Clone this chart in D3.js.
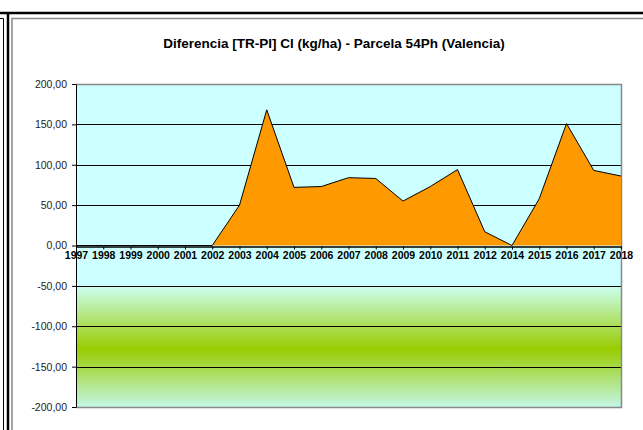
<!DOCTYPE html>
<html>
<head>
<meta charset="utf-8">
<script src="https://cdn.jsdelivr.net/npm/d3@7"></script>
<style>
  html, body { margin: 0; padding: 0; background: #fff; }
  svg { display: block; font-family: Arial, "Liberation Sans", sans-serif; }
</style>
</head>
<body>
<svg id="chart" width="643" height="430"></svg>
<script>
// ── data ───────────────────────────────────────────────────────────────────
const years  = ['1997','1998','1999','2000','2001','2002','2003','2004','2005','2006','2007',
                '2008','2009','2010','2011','2012','2014','2015','2016','2017','2018'];
const values = [0, 0, 0, 0, 0, 0, 50, 168, 72, 73, 84, 83, 55, 73, 94, 17, 0, 58, 151, 93, 86];
const yTicks = [200, 150, 100, 50, 0, -50, -100, -150, -200];
const title  = 'Diferencia [TR-PI] Cl (kg/ha) - Parcela 54Ph (Valencia)';

// ── layout ─────────────────────────────────────────────────────────────────
const svg = d3.select('#chart');
const pl = 76, pr = 621, pt = 84, pb = 407;
const FONT = 'Arial, "Liberation Sans", sans-serif';

const x = d3.scalePoint().domain(years).range([pl, pr]);
const y = d3.scaleLinear().domain([-200, 200]).range([pb, pt]);
const fmt = v => (v < 0 ? '-' : '') + d3.format('.2f')(Math.abs(v)).replace('.', ',');

// ── outer frames ───────────────────────────────────────────────────────────
svg.append('path').attr('d', 'M0,13H643').attr('stroke', '#000').attr('stroke-width', 2.5);
svg.append('path').attr('d', 'M8,12V430').attr('stroke', '#000').attr('stroke-width', 2.5);
svg.append('path').attr('d', 'M0,18.5H3.5V430').attr('fill', 'none').attr('stroke', '#000').attr('stroke-width', 1);
svg.append('path').attr('d', 'M12,430V18.5H643').attr('fill', 'none').attr('stroke', '#888').attr('stroke-width', 1.5);

// ── title ──────────────────────────────────────────────────────────────────
svg.append('text').attr('x', 334).attr('y', 48).attr('text-anchor', 'middle')
  .attr('font-family', FONT).attr('font-size', 13.5).attr('font-weight', 'bold').text(title);

// ── plot background ────────────────────────────────────────────────────────
const defs = svg.append('defs');
const grad = defs.append('linearGradient').attr('id', 'band')
  .attr('x1', 0).attr('x2', 0).attr('y1', 0).attr('y2', 1);
grad.append('stop').attr('offset', '0%').attr('stop-color', '#CCFFF2');
grad.append('stop').attr('offset', '52%').attr('stop-color', '#99CC00');
grad.append('stop').attr('offset', '100%').attr('stop-color', '#C4F6E6');

svg.append('rect').attr('x', pl).attr('y', pt).attr('width', pr - pl).attr('height', pb - pt)
  .attr('fill', '#CCFFFF');
svg.append('rect').attr('x', pl).attr('y', y(-50)).attr('width', pr - pl)
  .attr('height', y(-200) - y(-50)).attr('fill', 'url(#band)');

// grid
svg.append('g').selectAll('line').data(yTicks.filter(v => v !== 200 && v !== -200 && v !== 0))
  .join('line')
  .attr('x1', pl).attr('x2', pr)
  .attr('y1', d => Math.round(y(d)) + 0.5).attr('y2', d => Math.round(y(d)) + 0.5)
  .attr('stroke', '#000').attr('stroke-width', 1);

// plot border
svg.append('path')
  .attr('d', `M${pl},${pt + 0.5}H${pr + 0.5}V${pb + 0.5}H${pl}`)
  .attr('fill', 'none').attr('stroke', '#888').attr('stroke-width', 1.5);

// ── area ───────────────────────────────────────────────────────────────────
const pts = years.map((yr, i) => ({ yr, v: values[i] }));
svg.append('path').datum(pts)
  .attr('d', d3.area().x(d => x(d.yr)).y0(y(0)).y1(d => y(d.v)))
  .attr('fill', '#FF9900');
svg.append('path').datum(pts)
  .attr('d', d3.line().x(d => x(d.yr)).y(d => y(d.v)))
  .attr('fill', 'none').attr('stroke', '#000').attr('stroke-width', 1);

// ── axes ───────────────────────────────────────────────────────────────────
const yAxis = svg.append('g').attr('transform', `translate(${pl},0)`)
  .call(d3.axisLeft(y).tickValues(yTicks).tickSize(4).tickSizeOuter(0).tickFormat(fmt));
yAxis.attr('font-family', FONT);
yAxis.select('.domain').attr('stroke', '#000');
yAxis.selectAll('text').attr('font-size', 10.5).attr('fill', '#222').attr('dx', -2);

const xAxis = svg.append('g').attr('transform', `translate(0,${Math.round(y(0)) + 0.5})`)
  .call(d3.axisBottom(x).tickSize(3).tickSizeOuter(0).tickPadding(2));
xAxis.attr('font-family', FONT);
xAxis.select('.domain').attr('stroke', '#000').attr('stroke-width', 1.5);
xAxis.selectAll('text').attr('font-size', 10.5).attr('font-weight', 'bold').attr('fill', '#000');
</script>
</body>
</html>
